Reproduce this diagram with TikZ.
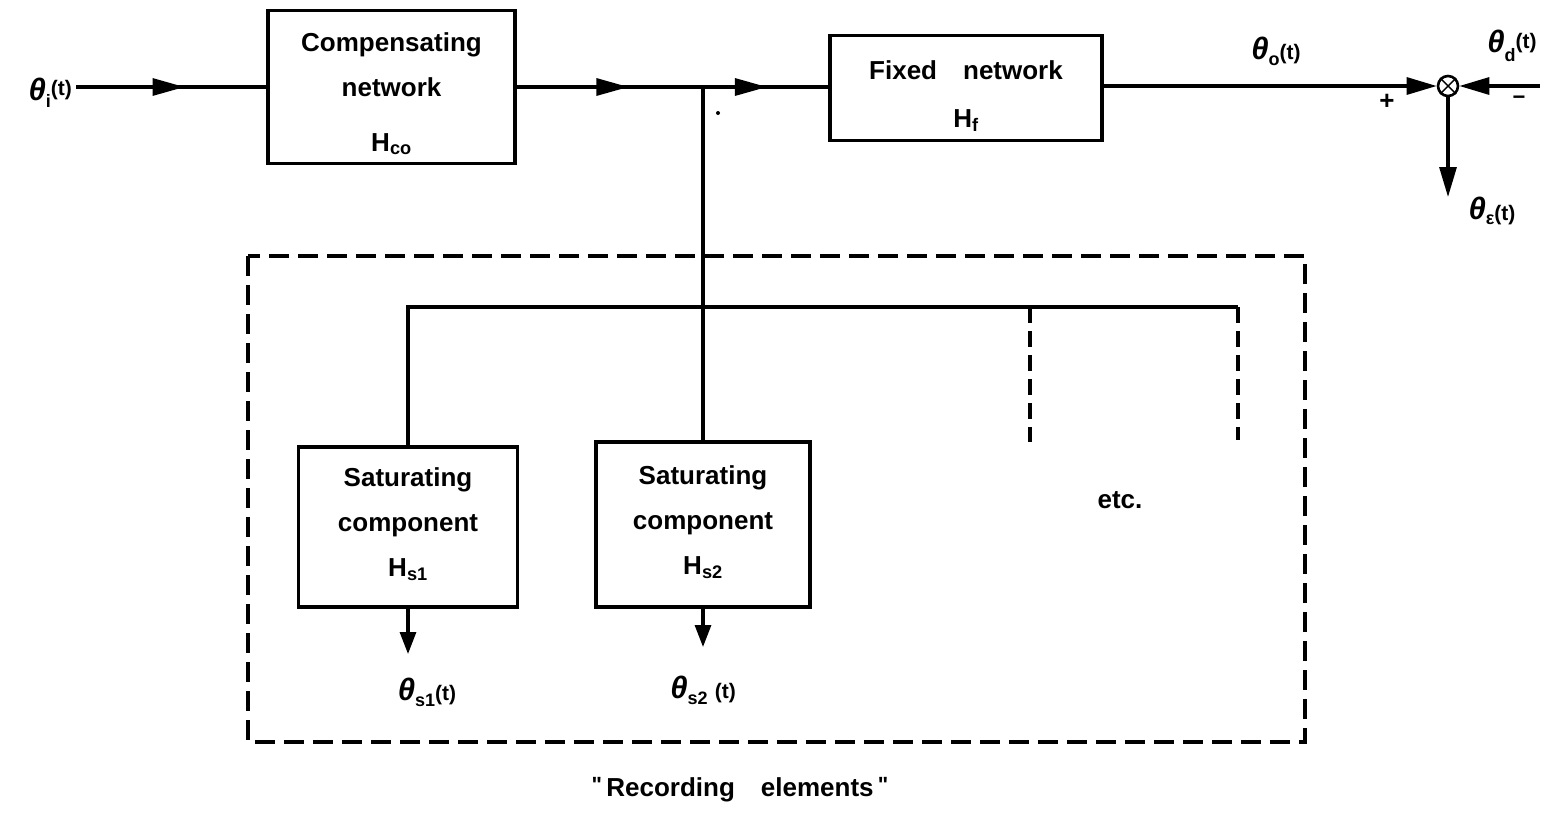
\documentclass[tikz,border=0pt]{standalone}
\usepackage{fontspec}
\setmainfont{Liberation Sans}
\usetikzlibrary{arrows.meta,decorations.markings}

% theta labels: symbol, lowered index, small argument
\newcommand\thet{{\fontsize{31}{31}\selectfont\bfseries\itshape θ}}
\newcommand\lsub[2][-7pt]{\raisebox{#1}{\fontsize{18}{18}\selectfont\bfseries #2}}
\newcommand\lpar[2][0pt]{\raisebox{#1}{\fontsize{21}{21}\selectfont\bfseries #2}}

\tikzset{
  x=1pt, y=-1pt,
  wire/.style={line width=3.1pt},
  tip/.style={-{Triangle[length=30pt,width=17pt]}},
  smalltip/.style={-{Triangle[length=22pt,width=16pt]}},
  midarrow/.style={postaction={decorate},
    decoration={markings,mark=at position #1 with {\arrow{Triangle[length=32pt,width=17pt]}}}},
  blk/.style={draw, line width=3.1pt, rectangle, inner sep=0pt},
  txt/.style={inner sep=0pt, align=center, font=\fontsize{26}{45}\selectfont\bfseries},
  lbl/.style={inner sep=0pt, font=\fontsize{26}{30}\selectfont\bfseries},
  dashbox/.style={line width=3.1pt, dash pattern=on 20pt off 9pt},
  dashwire/.style={line width=3.1pt, dash pattern=on 16pt off 8pt},
}

\begin{document}
\begin{tikzpicture}
\useasboundingbox (0,0) rectangle (1557,815);

% main forward path
\node[blk, minimum width=247pt, minimum height=153pt] (comp) at (391.5,87) {};
\node[txt, anchor=north] (compt) at (391.5,32)
  {Compensating\\network\\[10pt]H\textsubscript{co}};
\node[blk, minimum width=272pt, minimum height=105pt] (fix) at (966,88) {};
\node[txt, anchor=north, font=\fontsize{26}{48}\selectfont\bfseries] (fixt) at (966,60)
  {Fixed\quad network\\H\textsubscript{f}};

\node[lbl, anchor=east] (thi) at (72,93)
  {\thet\lsub{i}\lpar[5pt]{(t)}};
\coordinate (inp) at (76,87);
\coordinate (j) at (703,87);

\draw[wire, midarrow=0.57] (inp) -- (comp.west);
\draw[wire, midarrow=0.60] (comp.east) -- (j);
\draw[wire, midarrow=0.51] (j) -- (fix.west |- j);

\node[circle, fill, inner sep=0pt, minimum size=4pt] (dot) at (718,113) {};

% comparison point
\node[circle, draw, line width=2.6pt, minimum size=20pt, inner sep=0pt] (sum) at (1448,86) {};
\draw[line width=1.4pt] (sum.north west) -- (sum.south east)
                        (sum.north east) -- (sum.south west);
\coordinate (din) at (1540,86);
\coordinate (eout) at (1448,197);
\draw[wire, tip] (fix.east |- sum) -- (sum.west);
\draw[wire, tip] (din) -- (sum.east);
\draw[wire, tip] (sum.south) -- (eout);

\node[lbl] (tho) at (1276,51) {\thet\lsub[-6pt]{o}\lpar{(t)}};
\node[lbl] (plus) at (1387,102) {+};
\node[lbl] (thd) at (1512,46) {\thet\lsub[-9pt]{d}\lpar[4pt]{(t)}};
\node[lbl] (minus) at (1519,100) {\fontsize{22}{22}\selectfont −};
\node[lbl] (the) at (1492,211) {\thet\lsub[-5pt]{ε}\lpar[-1pt]{(t)}};

% recording elements
\draw[dashbox] (248,256) rectangle (1305,742);

\node[blk, minimum width=219pt, minimum height=160pt] (sat1) at (408,527) {};
\node[txt, anchor=north] (sat1t) at (408,467)
  {Saturating\\component\\H\textsubscript{s1}};
\node[blk, minimum width=214pt, minimum height=165pt] (sat2) at (703,524.5) {};
\node[txt, anchor=north] (sat2t) at (703,465)
  {Saturating\\component\\H\textsubscript{s2}};

\coordinate (bl) at (408,307);
\coordinate (bm) at (1030,307);
\coordinate (br) at (1238,307);
\coordinate (bme) at (1030,442);
\coordinate (bre) at (1238,440);

\draw[wire] (j) -- (sat2.north);
\draw[wire] (sat1.north) -- (bl) -- (br);
\draw[dashwire] (bm) -- (bme);
\draw[dashwire] (br) -- (bre);

\coordinate (o1) at (408,654);
\coordinate (o2) at (703,647);
\draw[wire, smalltip] (sat1.south) -- (o1);
\draw[wire, smalltip] (sat2.south) -- (o2);

\node[lbl] (ths1) at (427,692) {\thet\lsub[-6pt]{s1}\lpar{(t)}};
\node[lbl] (ths2) at (703,690) {\thet\lsub[-6pt]{s2}\ \lpar{(t)}};
\node[lbl] (etc) at (1120,500) {etc.};

\node[lbl] (rec) at (740,790)
  {\raisebox{4pt}{\fontsize{22}{22}\selectfont\textquotedbl}\,Recording\quad elements\,\raisebox{4pt}{\fontsize{22}{22}\selectfont\textquotedbl}};
\end{tikzpicture}
\end{document}
